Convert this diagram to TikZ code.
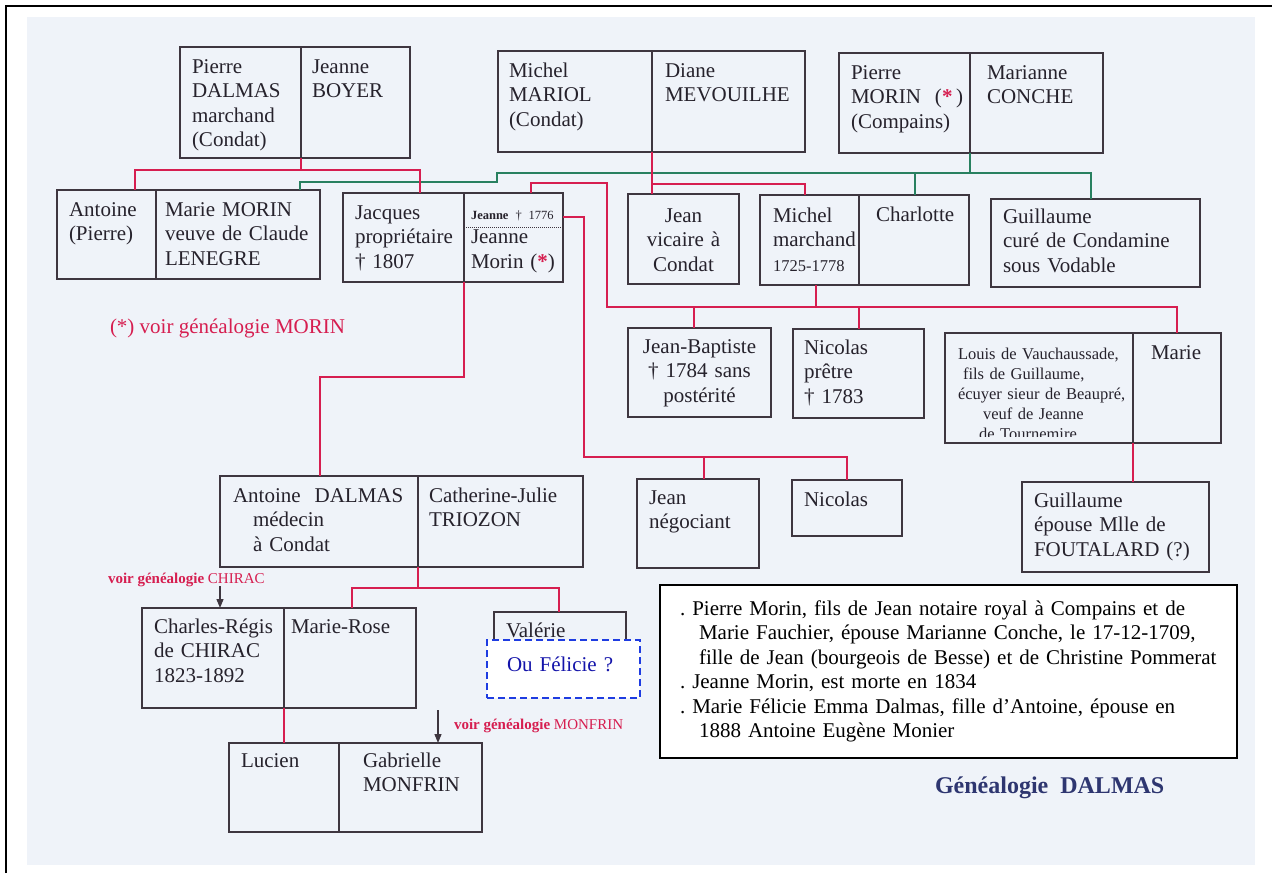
\documentclass[tikz,border=0pt]{standalone}
\usepackage{fontspec}
\setmainfont{Liberation Serif}
\usetikzlibrary{arrows.meta}
\definecolor{crim}{RGB}{214,30,80}
\definecolor{grn}{RGB}{40,128,96}
\definecolor{boxc}{RGB}{62,54,64}
\definecolor{txtc}{RGB}{38,34,44}
\definecolor{bgc}{RGB}{239,243,249}
\definecolor{navy}{RGB}{46,54,112}
\definecolor{felc}{RGB}{30,60,225}
\definecolor{feltxt}{RGB}{20,20,170}
\hyphenpenalty=10000
\exhyphenpenalty=10000
\frenchspacing
\newcommand{\dalmasfont}{\fontsize{21}{24.5}\selectfont}
\tikzset{
    half/.style={draw=boxc, line width=1.3pt, anchor=north west, outer sep=0pt,
        inner ysep=0pt, text height=26pt, align=left, text=txtc, font=\dalmasfont},
    rline/.style={draw=crim, line width=1.8pt},
    gline/.style={draw=grn, line width=1.8pt},
    darr/.style={draw=boxc, line width=1.3pt, -{Triangle[length=9pt,width=7pt]}},
    lbl/.style={anchor=base west, inner sep=0pt, outer sep=0pt},
}

\begin{document}
\begin{tikzpicture}[x=1pt,y=-1pt]
\useasboundingbox (0,0) rectangle (1272,873);
\fill[bgc] (27,17) rectangle (1255,865);
\draw[line width=2.5pt] (6,873) -- (6,6) -- (1272,6);

% first generation
\node[half, inner xsep=12pt, text width=97pt, text depth=85pt] (pdalmas) at (180,47) {Pierre\\DALMAS\\marchand\\(Condat)};
\node[half, inner xsep=11pt, text width=87pt, text depth=85pt] (jboyer) at (301,47) {Jeanne\\BOYER};
\node[half, inner xsep=11pt, text width=132pt, text depth=75pt] (mmariol) at (498,51) {Michel\\MARIOL\\(Condat)};
\node[half, inner xsep=13pt, text width=127pt, text depth=75pt] (dmevouilhe) at (652,51) {Diane\\MEVOUILHE};
\node[half, inner xsep=12pt, text width=107pt, text depth=74pt] (pmorin) at (839,53) {Pierre\\MORIN~~(\textcolor{crim}{\textbf{*}}\,)\\(Compains)};
\node[half, inner xsep=17pt, text width=99pt, text depth=74pt] (mconche) at (970,53) {Marianne\\CONCHE};

% second generation
\node[half, inner xsep=12pt, text width=75pt, text depth=63pt] (antoine) at (57,190) {Antoine\\(Pierre)};
\node[half, inner xsep=9pt, text width=146pt, text depth=63pt] (mmorin) at (156,190) {Marie MORIN\\veuve de Claude\\LENEGRE};
\node[half, inner xsep=12pt, text width=97pt, text depth=63pt] (jacques) at (343,193) {Jacques\\propriétaire\\† 1807};
\node[half, inner xsep=7pt, text width=85pt, text depth=63pt] (jmorin) at (464,193) {\mbox{\fontsize{12.5}{24.5}\selectfont\textbf{Jeanne} † 1776}\\Jeanne\\Morin (\textcolor{crim}{\textbf{*}})};
\draw[densely dotted, draw=boxc, line width=1pt] ([yshift=-34pt]jmorin.north west) -- ([yshift=-34pt]jmorin.north east);
\node[half, inner xsep=6pt, text width=99pt, text height=28pt, text depth=62pt, align=center] (jvicaire) at (628,194) {Jean\\vicaire à\\Condat};
\node[half, inner xsep=13pt, text width=73pt, text height=27pt, text depth=63pt] (mmarchand) at (760,195) {Michel\\marchand\\{\fontsize{16.5}{24.5}\selectfont 1725-1778}};
\node[half, inner xsep=17pt, text width=76pt, text depth=64pt] (charlotte) at (859,195) {Charlotte};
\node[half, inner xsep=12pt, text width=185pt, text height=24pt, text depth=64pt] (gcure) at (991,199) {Guillaume\\curé de Condamine\\sous Vodable};

% third generation
\node[half, inner xsep=6pt, text width=131pt, text height=25pt, text depth=64pt, align=center] (jbaptiste) at (628,328) {Jean-Baptiste\\† 1784 sans\\postérité};
\node[half, inner xsep=11pt, text width=109pt, text height=25pt, text depth=64pt] (nicolasp) at (793,329) {Nicolas\\prêtre\\† 1783};
\node[half, inner xsep=0pt, text width=188pt, text depth=84pt] (louis) at (945,333) {};
\begin{scope}
\clip (louis.north west) rectangle ([yshift=7pt]louis.south east);
\node[anchor=north west, inner sep=0pt, outer sep=0pt, text width=180pt, text height=26pt, align=left, text=txtc, font=\fontsize{16.5}{20}\selectfont] (louistxt) at ([xshift=13pt]louis.north west) {Louis de Vauchaussade,\\\hspace*{5pt}fils de Guillaume,\\écuyer sieur de Beaupré,\\\hspace*{25pt}veuf de Jeanne\\\hspace*{21pt}de Tournemire};
\end{scope}
\node[half, inner xsep=18pt, text width=52pt, text depth=84pt] (marie) at (1133,333) {Marie};

\node[half, inner xsep=13pt, text width=172pt, text depth=65pt] (adalmas) at (220,476) {\mbox{Antoine\hspace{14pt}DALMAS}\\\hspace*{20pt}médecin\\\hspace*{20pt}à Condat};
\node[half, inner xsep=11pt, text width=143pt, text depth=65pt] (ctriozon) at (418,476) {Catherine-Julie\\TRIOZON};
\node[half, inner xsep=12pt, text width=98pt, text height=25pt, text depth=64pt] (jnegociant) at (637,479) {Jean\\négociant};
\node[half, inner xsep=12pt, text width=86pt, text depth=30pt] (nicolas) at (792,480) {Nicolas};
\node[half, inner xsep=12pt, text width=163pt, text height=25pt, text depth=65pt] (gfoutalard) at (1022,482) {Guillaume\\épouse Mlle de\\FOUTALARD (?)};

% fourth and fifth generation
\node[half, inner xsep=12pt, text width=118pt, text height=25pt, text depth=75pt] (cregis) at (142,608) {Charles-Régis\\de CHIRAC\\1823-1892};
\node[half, inner xsep=7pt, text width=118pt, text height=25pt, text depth=75pt] (mrose) at (284,608) {Marie-Rose};
\node[half, inner xsep=12pt, text width=108pt, text height=25pt, text depth=55pt] (valerie) at (494,612) {Valérie};
\node[half, draw=felc, dash pattern=on 7pt off 4pt, line width=1.6pt, fill=white, text=feltxt, inner xsep=20pt, text width=113pt, text height=31pt, text depth=27pt] (felicie) at (487,640) {Ou Félicie ?};
\node[half, inner xsep=12pt, text width=86pt, text height=24pt, text depth=65pt] (lucien) at (229,743) {Lucien};
\node[half, inner xsep=24pt, text width=95pt, text height=24pt, text depth=65pt] (gmonfrin) at (339,743) {Gabrielle\\MONFRIN};

% notes and titles
\node[half, draw=black, line width=2pt, fill=white, text=black, inner xsep=20pt, text width=537pt, text height=30pt, text depth=143pt] (notes) at (660,585) {. Pierre Morin, fils de Jean notaire royal à Compains et de\\\hspace*{19pt}Marie Fauchier, épouse Marianne Conche, le 17-12-1709,\\\hspace*{19pt}fille de Jean (bourgeois de Besse) et de Christine Pommerat\\. Jeanne Morin, est morte en 1834\\. Marie Félicie Emma Dalmas, fille d’Antoine, épouse en\\\hspace*{19pt}1888 Antoine Eugène Monier};
\node[lbl, text=crim, font=\dalmasfont] (morinnote) at (110,333) {(*) voir généalogie MORIN};
\node[lbl, text=crim, font=\fontsize{15}{18}\selectfont] (chiracnote) at (108,583) {\textbf{voir généalogie} CHIRAC};
\node[lbl, text=crim, font=\fontsize{15}{18}\selectfont] (monfrinnote) at (454,729) {\textbf{voir généalogie} MONFRIN};
\node[lbl, text=navy, font=\fontsize{24}{28}\selectfont\bfseries] (title) at (935,793) {Généalogie\ \ DALMAS};

% MORIN branch
\coordinate (kmorin) at ([yshift=-20pt]pmorin.south east);
\coordinate (kmorinw) at (497,182);
\draw[gline] (pmorin.south east) -- (kmorin);
\draw[gline] ([xshift=56pt]charlotte.north west) |- (kmorin) -| ([xshift=100pt]gcure.north west);
\draw[gline] (kmorin) -| (kmorinw) -| ([xshift=144pt]mmorin.north west);

% DALMAS branch
\coordinate (kdalmas) at ([yshift=-12pt]pdalmas.south east);
\draw[rline] (pdalmas.south east) -- (kdalmas);
\draw[rline] ([xshift=78pt]antoine.north west) |- (kdalmas) -| ([xshift=77pt]jacques.north west);

% MARIOL branch
\coordinate (kmariol) at ([yshift=-32pt]mmariol.south east);
\draw[rline] (mmariol.south east) -- (mmariol.south east |- jvicaire.north);
\draw[rline] (kmariol) -| ([xshift=45pt]mmarchand.north west);

% children of Jacques and Jeanne
\coordinate (kjacq) at ([yshift=-95pt]jacques.south east);
\draw[rline] (jacques.south east) -- (kjacq) -| ([xshift=100pt]adalmas.north west);
\coordinate (kjeanne) at (607,183);
\coordinate (kmich) at ([xshift=56pt,yshift=-22pt]mmarchand.south west);
\draw[rline] ([xshift=56pt]mmarchand.south west) -- (kmich);
\draw[rline] ([xshift=67pt]jmorin.north west) |- (kjeanne) |- (kmich) -| ([xshift=44pt]marie.north west);
\draw[rline] ([xshift=66pt]jbaptiste.north west) |- (kmich);
\draw[rline] ([xshift=66pt]nicolasp.north west) |- (kmich);
\coordinate (kjright) at ([yshift=-24pt]jmorin.north east);
\coordinate (ksons) at (584,457);
\draw[rline] (kjright) -| (ksons) -| ([xshift=55pt]nicolas.north west);
\draw[rline] ([xshift=67pt]jnegociant.north west) |- (ksons);
\draw[rline] (marie.south west) -- (marie.south west |- gfoutalard.north);

% children of Antoine DALMAS
\coordinate (kadal) at ([yshift=-21pt]adalmas.south east);
\draw[rline] (adalmas.south east) -- (kadal);
\draw[rline] ([xshift=68pt]mrose.north west) |- (kadal) -| ([xshift=65pt]valerie.north west);
\draw[rline] (cregis.south east) -- (cregis.south east |- lucien.north);

% see also
\coordinate (chiracin) at ([xshift=78pt]cregis.north west);
\draw[darr] (chiracin |- chiracnote.south) -- (chiracin);
\coordinate (monfrinin) at ([xshift=99pt]gmonfrin.north west);
\draw[darr] ([yshift=33pt]monfrinin) -- (monfrinin);
\end{tikzpicture}
\end{document}
